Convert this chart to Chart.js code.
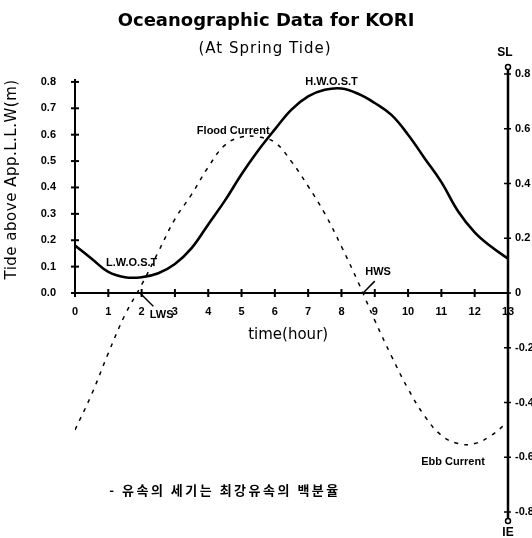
<!DOCTYPE html>
<html>
<head>
<meta charset="utf-8">
<script src="https://cdn.jsdelivr.net/npm/chart.js@4.4.1/dist/chart.umd.min.js"></script>
<style>
html, body { margin: 0; padding: 0; background: #fff; }
#wrap { width: 532px; height: 538px; }
</style>
</head>
<body>
<div id="wrap"><canvas id="tide-chart" width="532" height="538"></canvas></div>
<script>
// time axis (hour)
var hours = [0, 0.5, 1, 1.5, 2, 2.5, 3, 3.5, 4, 4.5, 5, 5.5, 6, 6.5, 7, 7.5, 8, 8.5, 9, 9.5, 10, 10.5, 11, 11.5, 12, 12.5, 13];
// tide above App.L.L.W (m), solid line, left axis
var tide = [0.18, 0.13, 0.08, 0.06, 0.06, 0.075, 0.11, 0.17, 0.26, 0.35, 0.45, 0.54, 0.62, 0.695, 0.745, 0.77, 0.775, 0.755, 0.72, 0.675, 0.6, 0.51, 0.42, 0.31, 0.23, 0.175, 0.13];
// current (flood +, ebb -), dashed line, right axis
var current = [-0.50, -0.37, -0.22, -0.08, 0.03, 0.15, 0.27, 0.36, 0.46, 0.54, 0.57, 0.57, 0.55, 0.48, 0.39, 0.29, 0.17, 0.04, -0.10, -0.23, -0.35, -0.45, -0.52, -0.55, -0.55, -0.52, -0.47];

var hourTicks = [0, 1, 2, 3, 4, 5, 6, 7, 8, 9, 10, 11, 12, 13];
var tideTicks = [0, 0.1, 0.2, 0.3, 0.4, 0.5, 0.6, 0.7, 0.8];
var currentTicks = [-0.8, -0.6, -0.4, -0.2, 0, 0.2, 0.4, 0.6, 0.8];

// text notes on the plot (hour, tide value)
var notes = [
  { text: 'L.W.O.S.T', x: 1.7, y: 0.115 },
  { text: 'H.W.O.S.T', x: 7.7, y: 0.80 },
  { text: 'Flood Current', x: 4.75, y: 0.615 },
  { text: 'Ebb Current', x: 11.35, y: -0.64 },
  { text: 'LWS', x: 2.6, y: -0.085 },
  { text: 'HWS', x: 9.1, y: 0.08 }
];
var pointers = [
  { from: [1.95, 0], to: [2.35, -0.05] },
  { from: [8.65, 0], to: [9.0, 0.045] }
];

var tickFont = { family: 'Liberation Sans', size: 11, weight: 'bold' };

function setTicks(values) {
  return function(scale) {
    scale.ticks = values.map(function(v) { return { value: v }; });
  };
}

function line(ctx, x1, y1, x2, y2) {
  ctx.beginPath();
  ctx.moveTo(x1, y1);
  ctx.lineTo(x2, y2);
  ctx.stroke();
}

var decor = {
  id: 'decor',
  afterDatasetsDraw: function(chart) {
    var ctx = chart.ctx;
    var xs = chart.scales.x, ys = chart.scales.y, ys2 = chart.scales.y2;
    var y0 = ys.getPixelForValue(0);
    var xL = xs.getPixelForValue(0), xR = xs.getPixelForValue(13);
    ctx.save();
    ctx.strokeStyle = '#000';
    ctx.fillStyle = '#000';

    // time axis
    ctx.lineWidth = 2;
    line(ctx, xL, y0, xR, y0);
    hourTicks.forEach(function(h) {
      var px = xs.getPixelForValue(h);
      line(ctx, px, y0 - 4, px, y0 + 4);
    });

    // tide axis (left)
    var yTop = ys.getPixelForValue(0.8);
    line(ctx, xL, y0, xL, yTop - 3);
    tideTicks.forEach(function(v) {
      var py = ys.getPixelForValue(v);
      line(ctx, xL - 4, py, xL + 4, py);
    });

    // current axis (right)
    ctx.lineWidth = 2.5;
    var t2 = ys2.getPixelForValue(0.8) - 5, b2 = ys2.getPixelForValue(-0.8) + 7;
    line(ctx, xR, t2, xR, b2);
    ctx.lineWidth = 1.5;
    currentTicks.forEach(function(v) {
      var py = ys2.getPixelForValue(v);
      line(ctx, xR - 4, py, xR + 3, py);
    });
    ctx.beginPath(); ctx.arc(xR, t2 - 2, 2.5, 0, Math.PI * 2); ctx.stroke();
    ctx.beginPath(); ctx.arc(xR, b2 + 2, 2.5, 0, Math.PI * 2); ctx.stroke();

    ctx.textAlign = 'center';
    ctx.textBaseline = 'middle';
    ctx.font = 'bold 12px "Liberation Sans Narrow", "Liberation Sans"';
    ctx.fillText('SL', xR - 3, t2 - 16);
    ctx.fillText('IE', xR, b2 + 14);

    // pointer lines to slack water labels
    ctx.lineWidth = 1.5;
    pointers.forEach(function(p) {
      line(ctx, xs.getPixelForValue(p.from[0]), ys.getPixelForValue(p.from[1]),
        xs.getPixelForValue(p.to[0]), ys.getPixelForValue(p.to[1]));
    });

    // notes
    ctx.font = 'bold 11px "Liberation Sans Narrow", "Liberation Sans"';
    notes.forEach(function(n) {
      ctx.fillText(n.text, xs.getPixelForValue(n.x), ys.getPixelForValue(n.y));
    });

    // axis titles
    ctx.font = '15px "DejaVu Sans"';
    ctx.fillText('time(hour)', xs.getPixelForValue(6.4), y0 + 42);
    ctx.save();
    ctx.translate(12, (y0 + yTop) / 2 - 8);
    ctx.rotate(-Math.PI / 2);
    ctx.letterSpacing = '0.5px';
    ctx.fillText('Tide above App.L.L.W(m)', 0, 0);
    ctx.restore();

    // titles
    ctx.font = 'bold 18px "DejaVu Sans"';
    ctx.fillText('Oceanographic Data for KORI', 266, 21);
    ctx.font = '15px "DejaVu Sans"';
    ctx.letterSpacing = '1px';
    ctx.fillText('(At Spring Tide)', 265, 49);

    // note at the bottom
    ctx.font = 'bold 13px "Noto Sans CJK KR"';
    ctx.letterSpacing = '2.5px';
    ctx.fillText('- 유속의 세기는 최강유속의 백분율', 225, 490);
    ctx.restore();
  }
};

var ctx = document.getElementById('tide-chart').getContext('2d');
var chart = new Chart(ctx, {
  type: 'line',
  data: {
    datasets: [{
      label: 'Tide',
      data: hours.map(function(h, i) { return { x: h, y: tide[i] }; }),
      yAxisID: 'y',
      borderColor: '#000',
      borderWidth: 2.6,
      pointRadius: 0,
      tension: 0.4,
      fill: false
    }, {
      label: 'Current',
      data: hours.map(function(h, i) { return { x: h, y: current[i] }; }),
      yAxisID: 'y2',
      borderColor: '#000',
      borderWidth: 1.5,
      borderDash: [4, 6],
      pointRadius: 0,
      tension: 0.4,
      fill: false
    }]
  },
  options: {
    responsive: false,
    animation: false,
    devicePixelRatio: 1,
    layout: { padding: { top: 74, bottom: 26, left: 0, right: 0 } },
    plugins: { legend: { display: false }, tooltip: { enabled: false }, title: { display: false } },
    scales: {
      x: {
        type: 'linear',
        min: 0,
        max: 13,
        position: { y: 0 },
        afterBuildTicks: setTicks(hourTicks),
        grid: { display: false, drawTicks: false },
        border: { display: false },
        ticks: { color: '#000', font: tickFont, padding: 12, maxRotation: 0 }
      },
      y: {
        type: 'linear',
        position: 'left',
        min: -0.83,
        max: 0.83,
        afterBuildTicks: setTicks(tideTicks),
        afterFit: function(scale) { scale.width = 75; },
        grid: { display: false, drawTicks: false },
        border: { display: false },
        ticks: {
          color: '#000', font: tickFont, padding: 19,
          callback: function(v) { return Number(v).toFixed(1); }
        }
      },
      y2: {
        type: 'linear',
        position: 'right',
        min: -0.8,
        max: 0.8,
        afterBuildTicks: setTicks(currentTicks),
        afterFit: function(scale) { scale.width = 24; },
        grid: { display: false, drawTicks: false },
        border: { display: false },
        ticks: {
          color: '#000', font: tickFont, padding: 7,
          callback: function(v) { return v === 0 ? '0' : Number(v).toFixed(1); }
        }
      }
    }
  },
  plugins: [decor]
});
</script>
</body>
</html>
